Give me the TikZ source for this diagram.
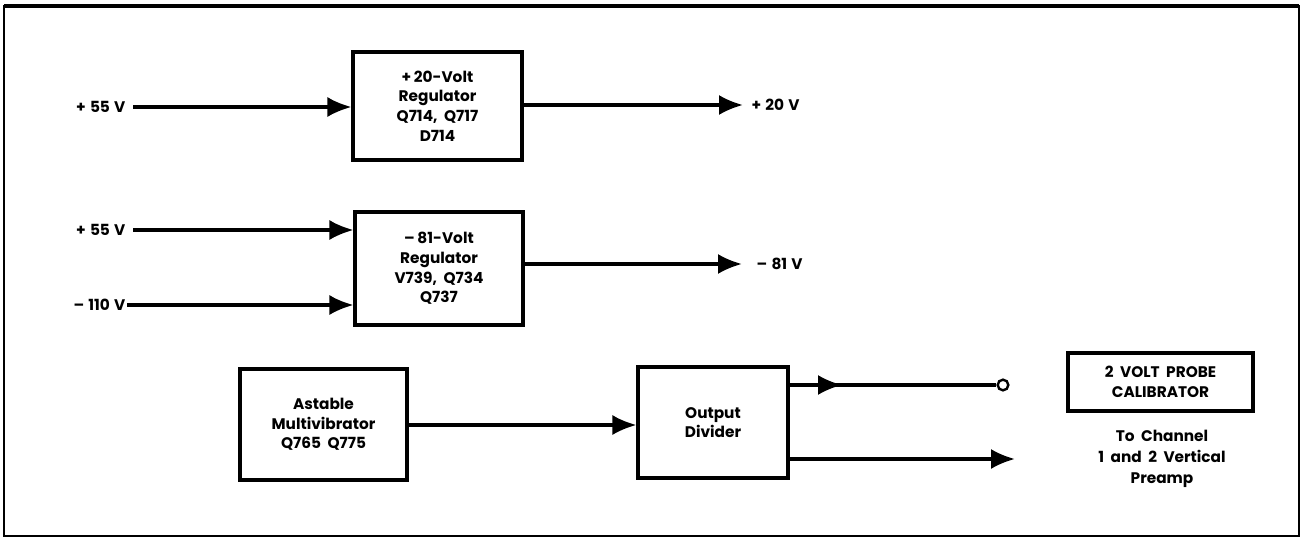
\documentclass[tikz,border=0pt]{standalone}
\usepackage{fontspec}
\setmainfont{Poppins}
\usetikzlibrary{arrows.meta}
\begin{document}
\begin{tikzpicture}[x=0.75pt,y=-0.75pt,
  every node/.style={font=\fontsize{11.5}{14.8}\selectfont\bfseries},
  blk/.style={draw,line width=2.3pt,align=center,inner sep=0pt},
  lbl/.style={inner sep=1pt},
  arr/.style={line width=2.3pt,-{Latex[length=18pt,width=15pt]}},
  ln/.style={line width=2.3pt}]
\useasboundingbox (0,0) rectangle (1304,539);
\draw[line width=1.8pt] (4,6) rectangle (1299,536);
\draw[line width=2.8pt] (4,6) -- (1299,6);
% blocks (sizes in pt = px*0.75)
\node[blk,minimum width=126.75pt,minimum height=81pt] (reg20) at (437.5,106) {+\,20-Volt\\Regulator\\Q714, \ Q717\\D714};
\node[blk,minimum width=126pt,minimum height=84.75pt] (reg81) at (439,268.5) {–\,81-Volt\\Regulator\\V739, \ Q734\\Q737};
\node[blk,minimum width=125.25pt,minimum height=83.25pt] (ast) at (323.5,424.5) {Astable\\Multivibrator\\Q765 \ Q775};
\node[blk,minimum width=112.5pt,minimum height=83.25pt] (div) at (713,422.5) {Output\\Divider};
\node[blk,minimum width=138.75pt,minimum height=43.5pt] (cal) at (1160.5,382) {2 \ VOLT \ PROBE\\CALIBRATOR};
\node[align=center,font=\fontsize{11.5}{15.8}\selectfont\bfseries] (to) at (1162,459) {To \ Channel\\1 \ and \ 2 \ Vertical\\Preamp};
% inputs
\node[lbl,anchor=east] (i1) at (127,107) {+\;55\;V};
\node[lbl,anchor=east] (i2) at (127,230) {+\;55\;V};
\node[lbl,anchor=east] (i3) at (127,305) {–\;110\;V};
\draw[arr] (i1.east)++(6,0) -- (reg20.west |- i1);
\draw[arr] (i2.east)++(6,0) -- (reg81.west |- i2);
\draw[arr] (i3.east) -- (reg81.west |- i3);
% outputs
\coordinate (t20) at (743,105);
\coordinate (t81) at (742,264);
\node[lbl,anchor=west] (o20) at (750,105) {+\;20\;V};
\node[lbl,anchor=west] (o81) at (755,264) {–\;81\;V};
\draw[arr] (reg20.east |- t20) -- (t20);
\draw[arr] (reg81.east |- t81) -- (t81);
% bottom
\draw[arr] (ast.east |- 0,425) -- (div.west |- 0,425);
\node[draw,circle,line width=1.8pt,minimum size=8pt,inner sep=0pt] (pin) at (1003,385) {};
\coordinate (mid) at (842,385);
\draw[ln] (div.east |- mid) -- (pin.west);
\draw[arr] (div.east |- mid) -- (mid);
\coordinate (t2) at (1015,459);
\draw[arr] (div.east |- t2) -- (t2);
\end{tikzpicture}
\end{document}
